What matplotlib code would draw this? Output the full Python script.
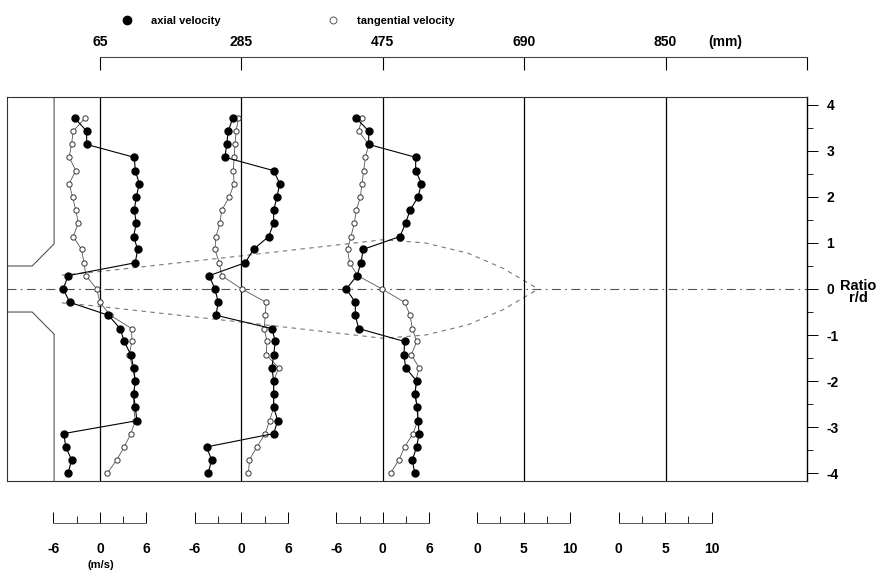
import numpy as np
import matplotlib.pyplot as plt
from matplotlib.lines import Line2D

plt.rcParams['font.family'] = ['Liberation Sans Narrow', 'Liberation Sans', 'DejaVu Sans']
plt.rcParams['font.weight'] = 'bold'
plt.rcParams['axes.unicode_minus'] = False

W, H = 879, 572

# stations (mm) along the jet axis
stations = ['65', '285', '475', '690', '850']

# radial positions r/d of the measurement points
r_d = [3.71, 3.43, 3.14, 2.86, 2.57, 2.29, 2.0, 1.71, 1.43, 1.14, 0.86, 0.57, 0.29, 0.0,
       -0.29, -0.57, -0.86, -1.14, -1.43, -1.71, -2.0, -2.29, -2.57, -2.86, -3.14, -3.43, -3.71, -4.0]

# velocities (m/s)
axial_65 = [-3.25, -1.73, -1.73, 4.42, 4.55, 5.06, 4.68, 4.42, 4.68, 4.33, 4.85, 4.55, -4.11, -4.76,
            -3.9, 1.08, 2.6, 3.12, 3.98, 4.33, 4.55, 4.33, 4.55, 4.76, -4.68, -4.42, -3.68, -4.11]
tang_65 = [-1.95, -3.46, -3.68, -3.98, -3.12, -3.98, -3.55, -3.12, -2.81, -3.46, -2.38, -2.08, -1.82, -0.43,
           0.0, 1.3, 4.1, 4.1, 3.8, 4.2, 4.55, 4.33, 4.33, 4.55, 3.98, 3.12, 2.16, 0.95]
axial_285 = [-1.13, -1.69, -1.91, -2.12, 4.16, 4.94, 4.59, 4.16, 4.16, 3.51, 1.56, 0.48, -4.16, -3.42,
             -2.99, -3.29, 3.94, 4.37, 4.16, 3.94, 4.16, 4.16, 4.16, 4.68, 4.16, -4.5, -3.85, -4.29]
tang_285 = [-0.39, -0.69, -0.82, -0.95, -1.04, -0.95, -1.56, -2.55, -2.77, -3.29, -3.42, -2.86, -2.55, 0.04,
            3.2, 3.07, 2.94, 3.29, 3.2, 4.81, 4.16, 4.16, 4.16, 3.64, 3.07, 1.99, 1.04, 0.91]
axial_475 = [-3.42, -1.82, -1.82, 4.24, 4.24, 4.98, 4.55, 3.51, 2.94, 2.21, -2.55, -2.81, -3.33, -4.72,
             -3.55, -3.55, -3.12, 2.81, 2.73, 2.94, 4.37, 4.11, 4.46, 4.55, 4.68, 4.37, 3.81, 4.11]
tang_475 = [-2.68, -3.12, -1.82, -2.25, -2.47, -2.68, -2.9, -3.42, -3.68, -4.11, -4.55, -4.29, -3.25, -0.09,
            2.81, 3.51, 3.81, 4.37, 3.68, 4.68, 4.24, 4.24, 4.4, 4.5, 3.9, 2.81, 2.08, 1.0]

axial = [axial_65, axial_285, axial_475]
tang = [tang_65, tang_285, tang_475]

# jet outline (x in station units, r/d)
jet_x = [-0.27, 0.0, 1.0, 2.0, 2.3, 2.6, 2.85, 3.1]
jet_r = [0.30, 0.38, 0.72, 1.07, 1.0, 0.78, 0.45, 0.0]

# nozzle wall (x in station units, r/d)
nozzle_x = [-0.66, -0.48, -0.325, -0.325]
nozzle_r = [0.50, 0.50, 0.98, 4.2]

px_per_station = 141.4
px_per_ms = 7.75
vs = px_per_ms / px_per_station   # m/s -> station units


def fx(px):
    return px / W


def fy(py):
    return 1 - py / H


fig = plt.figure(figsize=(W / 100, H / 100), dpi=100)
ax = fig.add_axes([fx(7), fy(481), fx(807) - fx(7), fy(97) - fy(481)])
ax.set_xlim(-0.658, 5.0)
ax.set_ylim(-4.17, 4.17)

gray = '#555555'
# nozzle
ax.plot(nozzle_x, nozzle_r, color=gray, lw=0.8)
ax.plot(nozzle_x, [-r for r in nozzle_r], color=gray, lw=0.8)
# centre line
ax.axhline(0, color=gray, lw=0.8, ls=(0, (8, 4, 1.5, 4)))
# jet outline
ax.plot(jet_x, jet_r, color='#777777', lw=0.8, ls=(0, (4, 4)))
ax.plot(jet_x, [-r for r in jet_r], color='#777777', lw=0.8, ls=(0, (4, 4)))
# station lines
for i in range(len(stations)):
    ax.axvline(i, color='black', lw=0.9)

for i in range(3):
    xa = [i + v * vs for v in axial[i]]
    xt = [i + v * vs for v in tang[i]]
    ax.plot(xt, r_d, color='#555555', lw=0.6, marker='o', ms=3.8, mfc='white', mec='#333333', mew=0.7)
    ax.plot(xa, r_d, color='black', lw=0.8, marker='o', ms=5, mfc='black', mec='black')

for s in ['left', 'top', 'bottom']:
    ax.spines[s].set_color('#333333')
    ax.spines[s].set_linewidth(0.8)
ax.spines['right'].set_linewidth(1.0)
ax.set_xticks([])
ax.yaxis.tick_right()
ax.set_yticks([4, 3, 2, 1, 0, -1, -2, -3, -4])
ax.set_yticks(np.arange(-3.5, 4, 1), minor=True)
ax.tick_params(axis='y', which='major', length=8, width=0.7, labelsize=10, pad=6)
ax.tick_params(axis='y', which='minor', length=4, width=0.6)
fig.text(fx(858), fy(292), 'Ratio\nr/d', ha='center', va='center', fontsize=10.5, linespacing=0.9)

# top position axis
axt = fig.add_axes([fx(7), fy(57), fx(807) - fx(7), 0.0001])
axt.set_xlim(-0.658, 5.0)
for s in ['left', 'right', 'bottom']:
    axt.spines[s].set_visible(False)
axt.spines['top'].set_bounds(0, 5)
axt.spines['top'].set_color('#444444')
axt.spines['top'].set_linewidth(0.8)
axt.set_yticks([])
axt.xaxis.tick_top()
axt.set_xticks(range(6))
axt.set_xticklabels(stations + [''])
axt.tick_params(axis='x', direction='in', length=9, width=0.8, labelsize=10, pad=6)
fig.text(fx(725), fy(42), '(mm)', ha='center', va='center', fontsize=10)

# velocity scale bars
scales = [(-6, 6), (-6, 6), (-6, 6), (0, 10), (0, 10)]
for i, (lo, hi) in enumerate(scales):
    x0 = 100 + i * px_per_station
    if lo < 0:
        a, b = x0 + lo * px_per_ms, x0 + hi * px_per_ms
        maj = [-6, 0, 6]
        mnr = [-3, 3]
    else:
        a, b = x0 - 47, x0 + 46
        maj = [0, 5, 10]
        mnr = [2.5, 7.5]
    axs = fig.add_axes([fx(a), fy(523), fx(b) - fx(a), 0.0001])
    axs.set_xlim(lo, hi)
    for s in ['left', 'right', 'bottom']:
        axs.spines[s].set_visible(False)
    axs.spines['top'].set_color('#555555')
    axs.spines['top'].set_linewidth(0.7)
    axs.set_yticks([])
    axs.set_xticks(maj)
    axs.set_xticks(mnr, minor=True)
    axs.tick_params(axis='x', which='major', direction='in', length=8, width=0.7, labelsize=10, pad=14)
    axs.tick_params(axis='x', which='minor', direction='in', length=5, width=0.6)
fig.text(fx(101), fy(565), '(m/s)', ha='center', va='center', fontsize=8)

# legend
handles = [Line2D([], [], ls='none', marker='o', ms=6, mfc='black', mec='black'),
           Line2D([], [], ls='none', marker='o', ms=5, mfc='white', mec='#555555', mew=0.7)]
fig.legend(handles, ['axial velocity', 'tangential velocity'], loc='center left',
           bbox_to_anchor=(fx(111), fy(21)), ncol=2, frameon=False, fontsize=8,
           columnspacing=9.6, handletextpad=1.7, handlelength=1.0)

fig.savefig('out.png', dpi=100, facecolor='white')
